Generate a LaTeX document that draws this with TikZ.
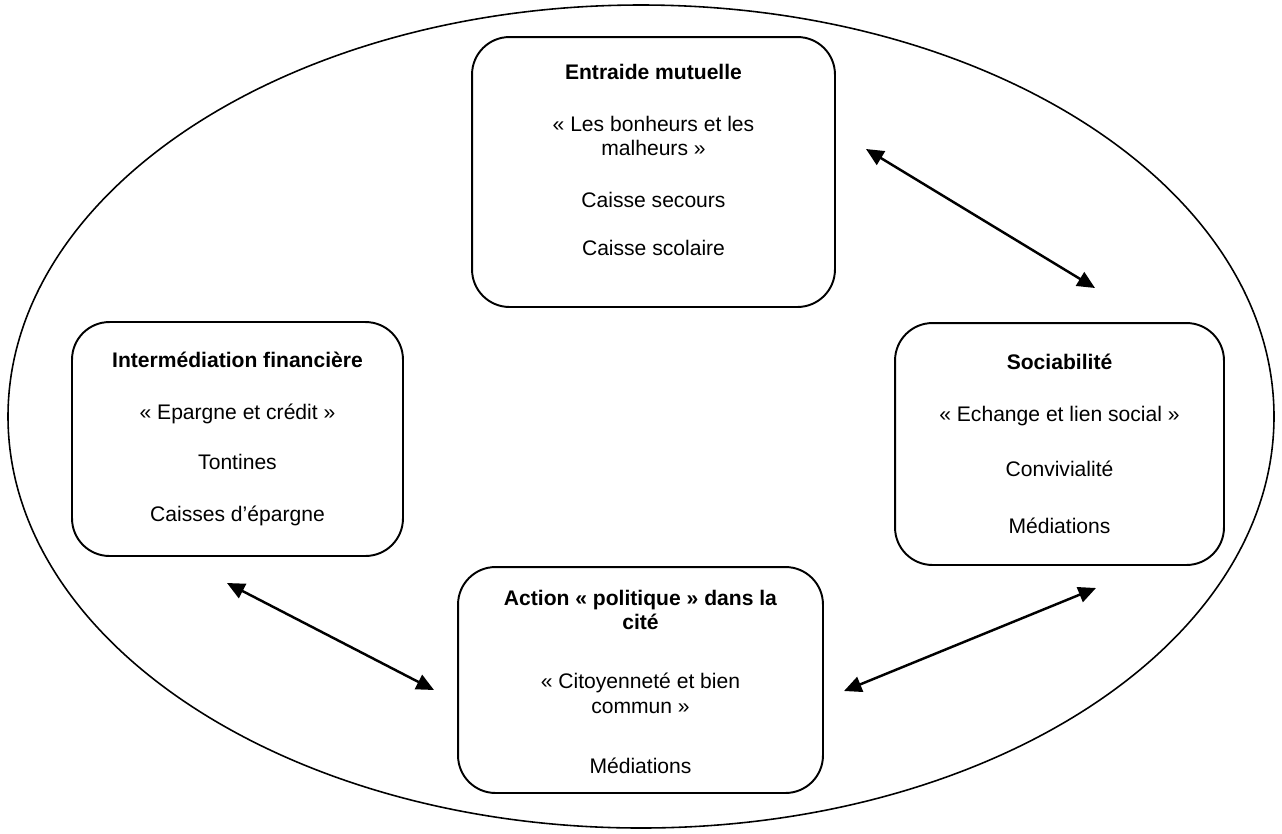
\documentclass[tikz,border=0pt]{standalone}
\usepackage{fontspec}
\setmainfont{Liberation Sans}
\usepackage{tikz}
\usetikzlibrary{arrows.meta}

\begin{document}
\begin{tikzpicture}[x=0.02cm,y=-0.02cm]
\tikzstyle{every node}=[font=\fontsize{12}{13.7}\selectfont]
\tikzstyle{bloc}=[draw,line width=1.1pt,rounded corners=0.75cm,align=center,inner sep=0pt]
\tikzstyle{lien}=[{Triangle[length=10pt,width=9pt]}-{Triangle[length=10pt,width=9pt]},line width=1.4pt]
\useasboundingbox (0,0) rectangle (1282,833);
\draw[line width=0.9pt](641,416.5) ellipse[x radius=633,y radius=411.5];
\node[bloc,minimum width=7.26cm,minimum height=5.4cm](entraide) at (653.5,172)
{\textbf{Entraide mutuelle}\\[0.56cm]«~Les bonheurs et les\\malheurs~»\\[0.56cm]Caisse secours\\[0.48cm]Caisse scolaire\\~};
\node[bloc,minimum width=6.62cm,minimum height=4.68cm](interm) at (237.5,439)
{\textbf{Intermédiation financière}\\[0.56cm]«~Epargne et crédit~»\\[0.52cm]Tontines\\[0.56cm]Caisses d’épargne};
\node[bloc,minimum width=6.58cm,minimum height=4.84cm](sociab) at (1059.5,444)
{\textbf{Sociabilité}\\[0.56cm]«~Echange et lien social~»\\[0.62cm]Convivialité\\[0.66cm]Médiations};
\node[bloc,minimum width=7.3cm,minimum height=4.52cm](action) at (640.5,680)
{~\\[-0.1cm]\textbf{Action «~politique~» dans la}\\\textbf{cité}\\[0.7cm]«~Citoyenneté et bien\\commun~»\\[0.72cm]Médiations};
\coordinate(a1) at (866,149);
\coordinate(a2) at (1095,288);
\coordinate(b1) at (227,583);
\coordinate(b2) at (434,690);
\coordinate(c1) at (1096,588);
\coordinate(c2) at (844,691);
\draw[lien](a1)--(a2);
\draw[lien](b1)--(b2);
\draw[lien](c1)--(c2);
\end{tikzpicture}
\end{document}
